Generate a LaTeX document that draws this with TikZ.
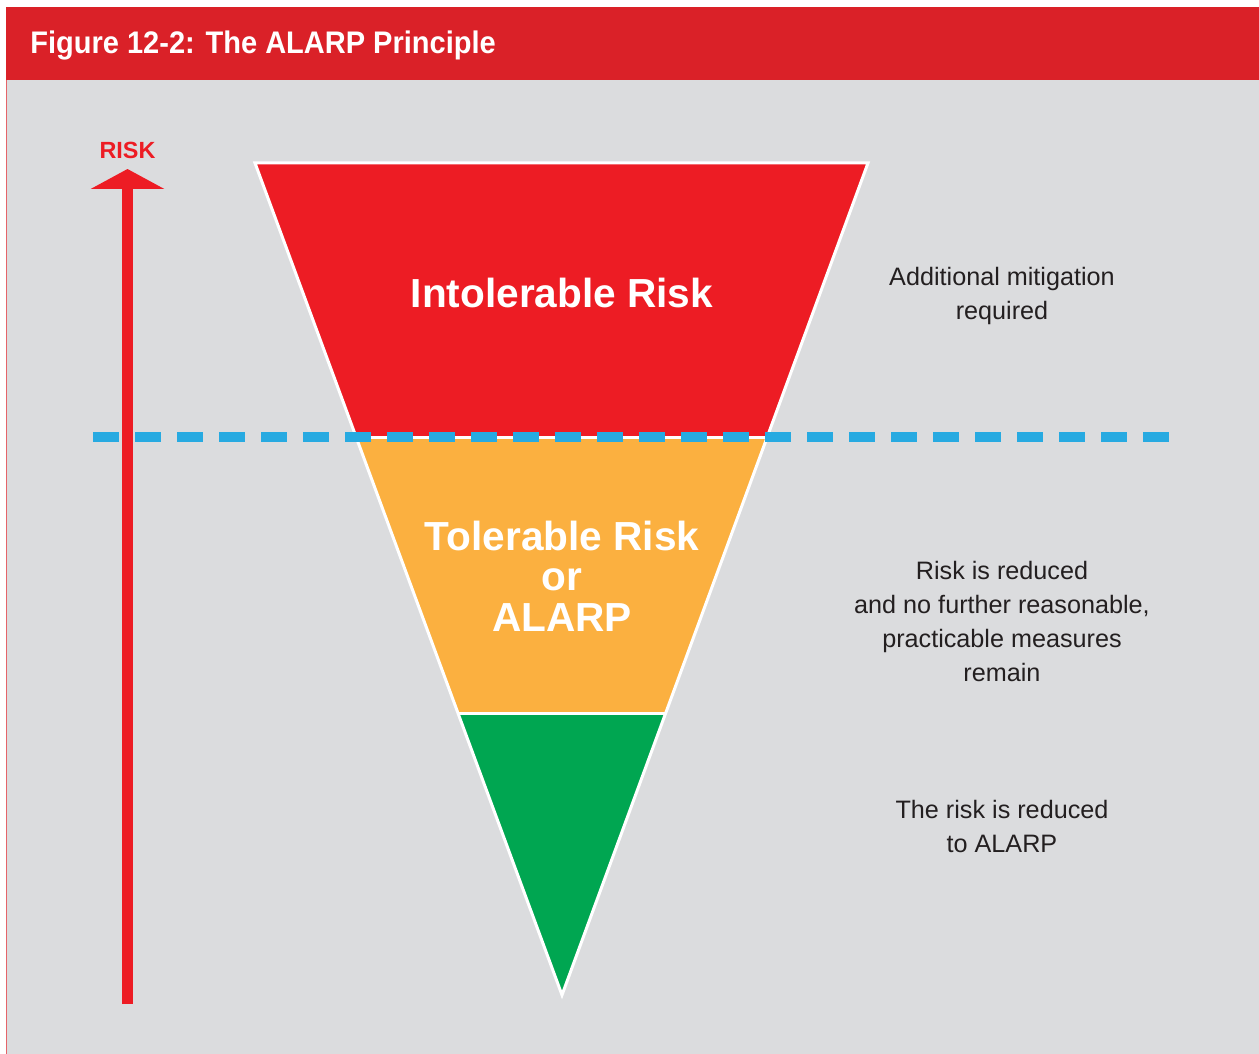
\documentclass[tikz,border=0pt]{standalone}
\usepackage{fontspec}
\setmainfont{Liberation Sans}
\newfontfamily\headfont[FakeStretch=0.93]{Liberation Sans}
\usetikzlibrary{arrows.meta,positioning}
\definecolor{headred}{HTML}{DA2128}
\definecolor{panelgrey}{HTML}{DBDCDE}
\definecolor{riskred}{HTML}{ED1C24}
\definecolor{alarporange}{HTML}{FBB040}
\definecolor{lowgreen}{HTML}{00A651}
\definecolor{lineblue}{HTML}{27AAE1}
\definecolor{bodytext}{HTML}{231F20}

\begin{document}
\begin{tikzpicture}[x=0.5pt, y=-0.5pt,
        zone/.style={draw=white, line width=1.5pt, line join=miter},
        zonelabel/.style={text=white, font=\fontsize{20.3}{20.3}\selectfont\bfseries, align=center, inner sep=0pt},
        note/.style={text=bodytext, font=\fontsize{12.6}{17}\selectfont, align=center, inner sep=0pt},
        limit/.style={lineblue, line width=5pt, dash pattern=on 13pt off 8pt},
        riskarrow/.style={riskred, line width=5.5pt, -{Triangle[width=36.5pt, length=10pt]}}
    ]
        \useasboundingbox (0,0) rectangle (1259,1054);
        \fill[white] (0,0) rectangle (1259,1054);

        % Header and panel
        \fill[headred] (6,7) rectangle (1259,80);
        \fill[panelgrey] (6,80) rectangle (1259,1054);
        \draw[headred!70, line width=0.6pt] (6.6,80) -- (6.6,1054);
        \node[anchor=west, text=white, font=\headfont\fontsize{15.6}{18}\selectfont\bfseries, inner sep=0pt] (title) at (30,46) {Figure 12-2: The ALARP Principle};

        % Corners of the funnel
        \coordinate (tl) at (255,163);
        \coordinate (tr) at (868,163);
        \coordinate (ml) at (356.1,437);
        \coordinate (mr) at (767.2,437);
        \coordinate (ll) at (458,713);
        \coordinate (lr) at (665.7,713);
        \coordinate (apex) at (562,995);

        % Zones
        \fill[riskred] (tl) -- (tr) -- (mr) -- (ml) -- cycle;
        \fill[alarporange] (ml) -- (mr) -- (lr) -- (ll) -- cycle;
        \fill[lowgreen] (ll) -- (lr) -- (apex) -- cycle;
        \draw[zone] (tl) -- (tr) -- (apex) -- cycle;
        \draw[zone] (ml) -- (mr);
        \draw[zone] (ll) -- (lr);

        \node[zonelabel] (intol) at (562,293) {Intolerable Risk};
        \node[zonelabel] (toler) at (562,576) {Tolerable Risk\\[-0.1pt]or\\[-0.1pt]ALARP};

        % ALARP limit
        \coordinate (limitstart) at (93,437);
        \coordinate (limitend) at (1170,437);
        \draw[limit] (limitstart) -- (limitend);

        % Risk axis
        \coordinate (riskfoot) at (127.5,1004);
        \coordinate (risktop) at (127.5,169);
        \draw[riskarrow] (riskfoot) -- (risktop);
        \node[text=riskred, font=\fontsize{11.7}{14}\selectfont\bfseries, inner sep=0pt] (risk) at (127.5,150) {RISK};

        % Notes
        \node[note] (highnote) at (1002,296) {Additional mitigation\\required};
        \node[note] (midnote) at (1002,621) {Risk is reduced\\and no further reasonable,\\practicable measures\\remain};
        \node[note] (lownote) at (1002,826) {The risk is reduced\\to ALARP};

    \end{tikzpicture}
\end{document}
